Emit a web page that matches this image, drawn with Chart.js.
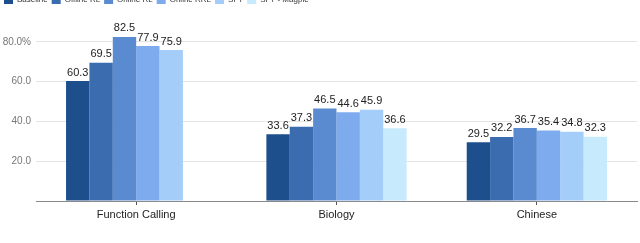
<!DOCTYPE html>
<html>
<head>
<meta charset="utf-8">
<script src="https://cdn.jsdelivr.net/npm/chart.js@4"></script>
<style>
  html, body { margin: 0; padding: 0; background: #fff; overflow: hidden; }
  body { width: 640px; height: 243px; position: relative; }
  #wrap { position: absolute; left: 0; top: -9px; width: 640px; height: 252px; }
</style>
</head>
<body>
<div id="wrap"><canvas id="chart"></canvas></div>
<script>
  // ── data ───────────────────────────────────────────────
  const CATEGORIES = ["Function Calling", "Biology", "Chinese"];
  const METHODS    = ["Baseline", "Offline RL", "Online RL", "Online RRL", "SFT", "SFT - Magpie"];

  const BASELINE   = [60.3, 33.6, 29.5];
  const OFFLINE_RL = [69.5, 37.3, 32.2];
  const ONLINE_RL  = [82.5, 46.5, 36.7];
  const ONLINE_RRL = [77.9, 44.6, 35.4];
  const SFT        = [75.9, 45.9, 34.8];
  const SFT_MAGPIE = [null, 36.6, 32.3];

  const Y_TICKS = [20, 40, 60, 80];

  const COLORS = ["#1d4f8d", "#3b6cb0", "#5a8bd0", "#7eabee", "#a4cdf9", "#c7eafd"];
  const SERIES = [BASELINE, OFFLINE_RL, ONLINE_RL, ONLINE_RRL, SFT, SFT_MAGPIE];

  const FONT = "'Liberation Sans', Arial, sans-serif";

  // ── value labels above bars ────────────────────────────
  const barLabels = {
    id: "barLabels",
    afterDatasetsDraw(chart) {
      const ctx = chart.ctx;
      ctx.save();
      ctx.font = "11px " + FONT;
      ctx.fillStyle = "#222";
      ctx.textAlign = "center";
      ctx.textBaseline = "bottom";
      chart.data.datasets.forEach((ds, i) => {
        const meta = chart.getDatasetMeta(i);
        meta.data.forEach((bar, j) => {
          const v = ds.data[j];
          if (v == null) return;
          ctx.fillText(v.toFixed(1), bar.x, bar.y - 3);
        });
      });
      ctx.restore();
    },
  };

  new Chart(document.getElementById("chart").getContext("2d"), {
    type: "bar",
    data: {
      labels: CATEGORIES,
      datasets: SERIES.map((d, i) => ({
        label: METHODS[i],
        data: d,
        backgroundColor: COLORS[i],
        barPercentage: 1,
        categoryPercentage: 0.7,
      })),
    },
    options: {
      responsive: true,
      maintainAspectRatio: false,
      animation: false,
      layout: { padding: { top: 0, right: 3, bottom: 22, left: 0 } },
      plugins: {
        tooltip: { enabled: false },
        legend: {
          position: "top",
          align: "start",
          labels: {
            font: { family: FONT, size: 8 },
            color: "#333",
            boxWidth: 9,
            boxHeight: 9,
            padding: 4,
          },
        },
      },
      scales: {
        x: {
          grid: { offset: false, drawOnChartArea: false, drawTicks: true, tickLength: 4, tickColor: "#555" },
          border: { color: "#8a8a8a", width: 1 },
          ticks: { font: { family: FONT, size: 11 }, color: "#222", padding: 3 },
          afterFit(scale) { scale.height = 20; },
        },
        y: {
          min: 0,
          max: 94,
          afterBuildTicks(scale) { scale.ticks = [0, ...Y_TICKS].map(v => ({ value: v })); },
          grid: {
            drawTicks: false,
            color: ctx => (ctx.tick && ctx.tick.value > 0 ? "#e4e4e4" : "rgba(0,0,0,0)"),
          },
          border: { display: false },
          ticks: {
            font: { family: FONT, size: 10 },
            color: "#777",
            padding: 5,
            callback: v => (v === 0 ? "" : v === 80 ? "80.0%" : v.toFixed(1)),
          },
          afterFit(scale) { scale.width = 36; },
        },
      },
    },
    plugins: [barLabels],
  });
</script>
</body>
</html>
